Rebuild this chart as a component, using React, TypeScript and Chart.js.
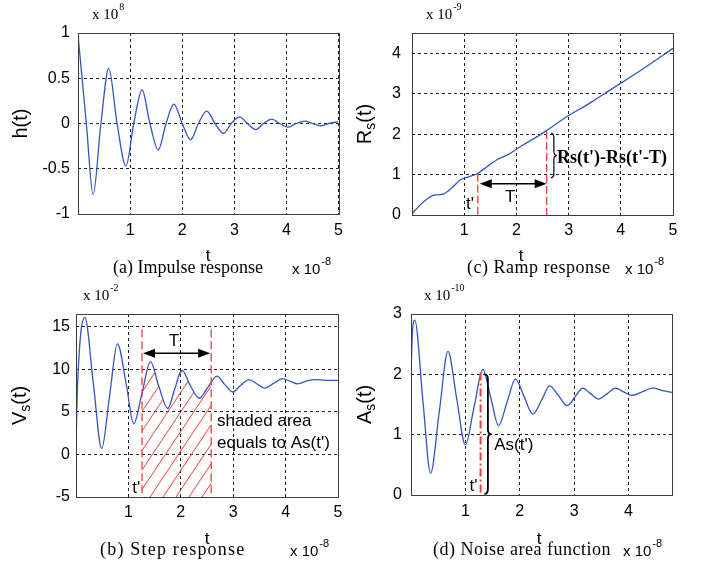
import React, { useEffect, useRef } from 'react';
import { Chart, registerables } from 'chart.js';

Chart.register(...registerables);

// ---------------- DATA (time axis in units of 1e-8 s) ----------------
// (a) Impulse response h(t), x 1e8
const impulseT = [0, 0.16, 0.29, 0.44, 0.59, 0.75, 0.92, 1.07, 1.23, 1.38, 1.54, 1.69, 1.84, 2.0, 2.16, 2.31, 2.47, 2.63, 2.79, 2.94, 3.1, 3.25, 3.41, 3.56, 3.72, 3.87, 4.03, 4.19, 4.35, 4.5, 4.65, 4.81, 5.0];
const impulseH = [0.98, 0, -0.785, 0, 0.61, 0, -0.47, 0, 0.37, 0, -0.29, 0, 0.215, 0, -0.18, 0, 0.137, 0, -0.11, 0, 0.074, 0, -0.067, 0, 0.048, 0, -0.04, 0, 0.026, 0, -0.026, 0, 0.02];

// (c) Ramp response Rs(t), x 1e-9
const rampT = [0, 0.2, 0.39, 0.5, 0.61, 0.77, 0.93, 1.1, 1.25, 1.44, 1.66, 1.85, 2.11, 2.35, 2.57, 3.0, 3.4, 3.77, 4.4, 5.0];
const rampR = [0.03, 0.3, 0.48, 0.5, 0.52, 0.68, 0.87, 0.95, 1.02, 1.2, 1.39, 1.5, 1.72, 1.9, 2.08, 2.46, 2.76, 3.07, 3.59, 4.12];

// (b) Step response Vs(t), x 1e-2
const stepT = [0, 0.03, 0.17, 0.33, 0.49, 0.64, 0.79, 0.96, 1.1, 1.26, 1.42, 1.58, 1.75, 1.88, 2.02, 2.18, 2.35, 2.52, 2.69, 2.84, 2.99, 3.14, 3.3, 3.45, 3.6, 3.77, 3.94, 4.09, 4.23, 4.39, 4.55, 4.8, 5.0];
const stepV = [1.1, 8.2, 16.1, 8.4, 0.7, 6.8, 13.0, 8.2, 3.6, 7.2, 10.9, 8.0, 5.4, 7.6, 9.9, 8.1, 6.6, 7.9, 9.2, 8.2, 7.35, 8.1, 8.8, 8.3, 7.8, 8.35, 8.9, 8.6, 8.3, 8.6, 8.8, 8.7, 8.7];

// (d) Noise area function As(t), x 1e-10
const noiseT = [0, 0.03, 0.07, 0.22, 0.36, 0.52, 0.68, 0.84, 1.0, 1.16, 1.32, 1.47, 1.61, 1.77, 1.92, 2.08, 2.24, 2.4, 2.55, 2.71, 2.87, 3.02, 3.16, 3.3, 3.45, 3.61, 3.76, 3.91, 4.06, 4.23, 4.45, 4.63, 4.8];
const noiseA = [2.04, 2.75, 2.9, 1.55, 0.36, 1.38, 2.38, 1.6, 0.83, 1.46, 2.08, 1.6, 1.15, 1.55, 1.92, 1.63, 1.34, 1.57, 1.81, 1.65, 1.48, 1.63, 1.77, 1.68, 1.59, 1.68, 1.77, 1.71, 1.65, 1.7, 1.77, 1.73, 1.7];

// annotation values (data units)
const tPrime = 1.26;
const tPrimePlusT = 2.58;
const rampLineTops = [1.02, 2.08];
const rampArrowY = 0.77;
const rampBrace = [2.02, 0.92];
const stepLineTop = 14.7;
const stepArrowY = 11.9;
const noiseT1 = 1.28;
const noiseLineTop = 2.03;

const SANS = '"Liberation Sans", Arial, Helvetica, sans-serif';
const SERIF = '"Liberation Serif", "Times New Roman", Times, serif';
const LINE = 'rgb(52,84,190)';
const GRID = '#1e1e1e';
const RED = '#e8413c';

type Ctx = CanvasRenderingContext2D;

function txt(ctx: Ctx, s: string, x: number, y: number, font: string, align: CanvasTextAlign = 'left', base: CanvasTextBaseline = 'middle', color = '#000', spacing = 0) {
  ctx.save();
  ctx.font = font;
  ctx.fillStyle = color;
  ctx.textAlign = align;
  ctx.textBaseline = base;
  if (spacing) (ctx as any).letterSpacing = `${spacing}px`;
  ctx.fillText(s, x, y);
  ctx.restore();
}

function expLabel(ctx: Ctx, x: number, baseY: number, sup: string, family: string, size: number, supSize: number) {
  ctx.save();
  ctx.fillStyle = '#000';
  ctx.textAlign = 'left';
  ctx.textBaseline = 'alphabetic';
  ctx.font = `${size}px ${family}`;
  ctx.fillText('x 10', x, baseY);
  const w = ctx.measureText('x 10').width;
  ctx.font = `${supSize}px ${family}`;
  ctx.fillText(sup, x + w + 1, baseY - size * 0.62);
  ctx.restore();
}

function yTitle(ctx: Ctx, x: number, yc: number, main: string, sub: string, rest: string) {
  const F = `20px ${SANS}`;
  const FS = `14px ${SANS}`;
  ctx.save();
  ctx.translate(x, yc);
  ctx.rotate(-Math.PI / 2);
  ctx.fillStyle = '#000';
  ctx.textAlign = 'left';
  ctx.textBaseline = 'middle';
  ctx.font = F;
  const w1 = ctx.measureText(main).width;
  const w3 = ctx.measureText(rest).width;
  ctx.font = FS;
  const w2 = sub ? ctx.measureText(sub).width : 0;
  let cx = -(w1 + w2 + w3) / 2;
  ctx.font = F;
  ctx.fillText(main, cx, 0);
  cx += w1;
  if (sub) {
    ctx.font = FS;
    ctx.fillText(sub, cx, 6);
    cx += w2;
  }
  ctx.font = F;
  ctx.fillText(rest, cx, 0);
  ctx.restore();
}

function vline(ctx: Ctx, x: number, y1: number, y2: number, color: string, width: number, dash: number[]) {
  ctx.save();
  ctx.strokeStyle = color;
  ctx.lineWidth = width;
  ctx.setLineDash(dash);
  ctx.beginPath();
  ctx.moveTo(x, y1);
  ctx.lineTo(x, y2);
  ctx.stroke();
  ctx.restore();
}

function dblArrow(ctx: Ctx, x1: number, x2: number, y: number) {
  const L = 12, H = 4.5;
  ctx.save();
  ctx.strokeStyle = '#000';
  ctx.fillStyle = '#000';
  ctx.lineWidth = 1.5;
  ctx.beginPath();
  ctx.moveTo(x1 + L - 2, y);
  ctx.lineTo(x2 - L + 2, y);
  ctx.stroke();
  ctx.beginPath();
  ctx.moveTo(x1, y);
  ctx.lineTo(x1 + L, y - H);
  ctx.lineTo(x1 + L, y + H);
  ctx.closePath();
  ctx.fill();
  ctx.beginPath();
  ctx.moveTo(x2, y);
  ctx.lineTo(x2 - L, y - H);
  ctx.lineTo(x2 - L, y + H);
  ctx.closePath();
  ctx.fill();
  ctx.restore();
}

function brace(ctx: Ctx, x: number, y1: number, y2: number, w: number, lw: number) {
  const ym = (y1 + y2) / 2;
  const h = w / 2;
  const r = Math.min(h * 1.4, Math.abs(y2 - y1) / 4);
  ctx.save();
  ctx.strokeStyle = '#000';
  ctx.lineWidth = lw;
  ctx.beginPath();
  ctx.moveTo(x, y1);
  ctx.quadraticCurveTo(x + h, y1, x + h, y1 + r);
  ctx.lineTo(x + h, ym - r);
  ctx.quadraticCurveTo(x + h, ym, x + w, ym);
  ctx.quadraticCurveTo(x + h, ym, x + h, ym + r);
  ctx.lineTo(x + h, y2 - r);
  ctx.quadraticCurveTo(x + h, y2, x, y2);
  ctx.stroke();
  ctx.restore();
}

function hatch(chart: any, v1: number, v2: number) {
  const { ctx, chartArea: a, scales } = chart;
  const meta = chart.getDatasetMeta(0);
  const line = meta.dataset;
  if (!line) return;
  if (line.updateControlPoints) line.updateControlPoints(a, 'x');
  const x1 = scales.x.getPixelForValue(v1);
  const x2 = scales.x.getPixelForValue(v2);
  ctx.save();
  ctx.beginPath();
  line.path(ctx);
  ctx.lineTo(a.right, a.bottom);
  ctx.lineTo(a.left, a.bottom);
  ctx.closePath();
  ctx.clip();
  ctx.beginPath();
  ctx.rect(x1, a.top, x2 - x1, a.bottom - a.top);
  ctx.clip();
  ctx.strokeStyle = RED;
  ctx.lineWidth = 1;
  const H = a.bottom - a.top;
  const dx = H / 1.5;
  ctx.beginPath();
  for (let x = x1 - dx; x < x2 + 2; x += 13) {
    ctx.moveTo(x, a.bottom);
    ctx.lineTo(x + dx, a.top);
  }
  ctx.stroke();
  ctx.restore();
}

type Area = { l: number; r: number; t: number; b: number };
interface PanelDef {
  key: string;
  left: number; top: number; w: number; h: number;
  area: Area;
  xs: number[]; ys: number[];
  xMax: number; yMin: number; yMax: number; yStep: number;
  xPad: number; yPad: number;
  yT: [string, string, string]; yTX: number;
  expTop: { x: number; y: number; sup: string };
  tLab: { x: number; y: number };
  caption: { text: string; x: number; y: number; sp: number };
  expBot: { x: number; y: number };
  under?: (chart: any) => void;
  over?: (chart: any) => void;
}

const PX = (c: any, v: number) => c.scales.x.getPixelForValue(v);
const PY = (c: any, v: number) => c.scales.y.getPixelForValue(v);

const PANELS: PanelDef[] = [
  {
    key: 'a', left: 0, top: 0, w: 350, h: 282,
    area: { l: 78, r: 339, t: 33, b: 214 },
    xs: impulseT, ys: impulseH, xMax: 5, yMin: -1, yMax: 1, yStep: 0.5,
    xPad: 7, yPad: 8,
    yT: ['h(t)', '', ''], yTX: 21,
    expTop: { x: 92, y: 19, sup: '8' },
    tLab: { x: 208, y: 256 },
    caption: { text: '(a) Impulse response', x: 113, y: 268, sp: 0 },
    expBot: { x: 292, y: 274 },
  },
  {
    key: 'c', left: 350, top: 0, w: 351, h: 282,
    area: { l: 62, r: 323, t: 33, b: 215 },
    xs: rampT, ys: rampR, xMax: 5, yMin: 0, yMax: 4.5, yStep: 1,
    xPad: 6, yPad: 11,
    yT: ['R', 's', '(t)'], yTX: 15,
    expTop: { x: 76, y: 19, sup: '-9' },
    tLab: { x: 171, y: 256 },
    caption: { text: '(c) Ramp response', x: 117, y: 268, sp: 0.5 },
    expBot: { x: 275, y: 274 },
    over: (c) => {
      const ctx = c.ctx;
      vline(ctx, PX(c, tPrime), PY(c, rampLineTops[0]), PY(c, 0), RED, 1.3, [8, 3]);
      vline(ctx, PX(c, tPrimePlusT), PY(c, rampLineTops[1]), PY(c, 0), RED, 1.3, [8, 3]);
      dblArrow(ctx, PX(c, tPrime) + 2, PX(c, tPrimePlusT), PY(c, rampArrowY));
      txt(ctx, 'T', PX(c, 1.88), PY(c, 0.44), `17px ${SANS}`, 'center');
      txt(ctx, "t'", PX(c, 1.11), PY(c, 0.26), `17px ${SANS}`, 'center');
      brace(ctx, PX(c, 2.66), PY(c, rampBrace[0]), PY(c, rampBrace[1]), 6, 1.2);
      txt(ctx, "Rs(t')-Rs(t'-T)", PX(c, 2.78), PY(c, 1.41), `bold 18px ${SERIF}`, 'left');
    },
  },
  {
    key: 'b', left: 0, top: 282, w: 350, h: 282,
    area: { l: 76, r: 338, t: 32, b: 215 },
    xs: stepT, ys: stepV, xMax: 5, yMin: -5, yMax: 16.5, yStep: 5,
    xPad: 6, yPad: 6,
    yT: ['V', 's', '(t)'], yTX: 20,
    expTop: { x: 83, y: 18, sup: '-2' },
    tLab: { x: 207, y: 257 },
    caption: { text: '(b) Step response', x: 100, y: 268, sp: 1.2 },
    expBot: { x: 290, y: 274 },
    under: (c) => hatch(c, tPrime, tPrimePlusT),
    over: (c) => {
      const ctx = c.ctx;
      vline(ctx, PX(c, tPrime), PY(c, stepLineTop), PY(c, -5), RED, 1.3, [8, 4]);
      vline(ctx, PX(c, tPrimePlusT), PY(c, stepLineTop), PY(c, -5), RED, 1.3, [8, 4]);
      dblArrow(ctx, PX(c, tPrime) + 1, PX(c, tPrimePlusT) - 1, PY(c, stepArrowY));
      txt(ctx, 'T', PX(c, 1.87), PY(c, 13.3), `17px ${SANS}`, 'center');
      txt(ctx, "t'", PX(c, 1.15), PY(c, -4.0), `17px ${SANS}`, 'center');
      txt(ctx, 'shaded area', PX(c, 2.69), PY(c, 3.9), `17px ${SANS}`, 'left');
      txt(ctx, "equals to As(t')", PX(c, 2.69), PY(c, 1.3), `17px ${SANS}`, 'left');
    },
  },
  {
    key: 'd', left: 350, top: 282, w: 351, h: 282,
    area: { l: 61, r: 322, t: 32, b: 213 },
    xs: noiseT, ys: noiseA, xMax: 4.8, yMin: 0, yMax: 3, yStep: 1,
    xPad: 7, yPad: 9,
    yT: ['A', 's', '(t)'], yTX: 15,
    expTop: { x: 74, y: 18, sup: '-10' },
    tLab: { x: 189, y: 257 },
    caption: { text: '(d) Noise area function', x: 83, y: 268, sp: 0.5 },
    expBot: { x: 273, y: 274 },
    over: (c) => {
      const ctx = c.ctx;
      vline(ctx, PX(c, noiseT1), PY(c, noiseLineTop), PY(c, 0), RED, 2, [8, 3, 2, 3]);
      brace(ctx, PX(c, 1.35), PY(c, 2.0), PY(c, 0.02), 7, 1.8);
      txt(ctx, "As(t')", PX(c, 1.53), PY(c, 0.83), `17px ${SANS}`, 'left');
      txt(ctx, "t'", PX(c, 1.15), PY(c, 0.14), `17px ${SANS}`, 'center');
    },
  },
];

const fmt = (v: any) => String(Math.round(Number(v) * 100) / 100);

function buildConfig(d: PanelDef): any {
  const data = d.xs.map((x, i) => ({ x, y: d.ys[i] }));
  const deco = {
    id: 'deco' + d.key,
    beforeDatasetsDraw(chart: any) {
      if (d.under) d.under(chart);
    },
    afterDraw(chart: any) {
      const ctx: Ctx = chart.ctx;
      const a = chart.chartArea;
      ctx.save();
      ctx.strokeStyle = '#3c3c3c';
      ctx.lineWidth = 1;
      ctx.strokeRect(Math.round(a.left) + 0.5, Math.round(a.top) + 0.5, Math.round(a.right - a.left), Math.round(a.bottom - a.top));
      ctx.restore();
      yTitle(ctx, d.yTX, (a.top + a.bottom) / 2, d.yT[0], d.yT[1], d.yT[2]);
      expLabel(ctx, d.expTop.x, d.expTop.y, d.expTop.sup, SERIF, 15, 10);
      txt(ctx, 't', d.tLab.x, d.tLab.y, `17px ${SANS}`, 'center');
      txt(ctx, d.caption.text, d.caption.x, d.caption.y, `18px ${SERIF}`, 'left', 'middle', '#000', d.caption.sp);
      expLabel(ctx, d.expBot.x, d.expBot.y, '-8', SANS, 15, 11);
      if (d.over) d.over(chart);
    },
  };
  const tickFont = { family: SANS, size: 16 };
  return {
    type: 'line',
    data: {
      datasets: [
        {
          data,
          borderColor: LINE,
          borderWidth: 1.3,
          pointRadius: 0,
          fill: false,
          cubicInterpolationMode: 'monotone',
        },
      ],
    },
    options: {
      responsive: false,
      animation: false,
      devicePixelRatio: 1,
      events: [],
      layout: { padding: { left: 0, top: d.area.t, right: d.w - d.area.r, bottom: 0 } },
      plugins: { legend: { display: false }, tooltip: { enabled: false }, title: { display: false } },
      scales: {
        x: {
          type: 'linear',
          min: 0,
          max: d.xMax,
          afterFit: (s: any) => { s.height = d.h - d.area.b; },
          ticks: {
            stepSize: 1,
            includeBounds: false,
            autoSkip: false,
            maxRotation: 0,
            padding: d.xPad,
            color: '#000',
            font: tickFont,
            callback: (v: any) => (Number(v) === 0 ? '' : fmt(v)),
          },
          grid: { color: GRID, lineWidth: 1, drawTicks: false },
          border: { display: false, dash: [3, 3] },
        },
        y: {
          type: 'linear',
          min: d.yMin,
          max: d.yMax,
          afterFit: (s: any) => { s.width = d.area.l; },
          ticks: {
            stepSize: d.yStep,
            includeBounds: false,
            autoSkip: false,
            padding: d.yPad,
            color: '#000',
            font: tickFont,
            callback: (v: any) => fmt(v),
          },
          grid: { color: GRID, lineWidth: 1, drawTicks: false },
          border: { display: false, dash: [3, 3] },
        },
      },
    },
    plugins: [deco],
  };
}

function Panel({ def }: { def: PanelDef }) {
  const ref = useRef<HTMLCanvasElement>(null);
  useEffect(() => {
    const canvas = ref.current;
    if (!canvas) return;
    const chart = new Chart(canvas, buildConfig(def));
    return () => chart.destroy();
  }, [def]);
  return (
    <canvas
      ref={ref}
      width={def.w}
      height={def.h}
      style={{ position: 'absolute', left: def.left, top: def.top, width: def.w, height: def.h }}
    />
  );
}

export default function App() {
  return (
    <div style={{ position: 'absolute', left: 0, top: 0, width: 701, height: 564, background: '#fff', overflow: 'hidden' }}>
      {PANELS.map((p) => (
        <Panel key={p.key} def={p} />
      ))}
    </div>
  );
}
